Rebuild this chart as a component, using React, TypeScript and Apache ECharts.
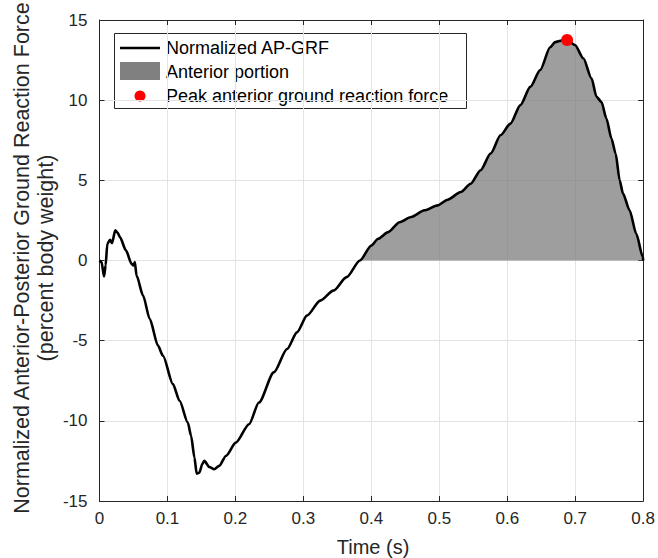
import React, { useEffect, useRef } from "react";
import * as echarts from "echarts";

// Time samples (s) and normalized AP-GRF (percent body weight)
const timeS = [
  0, 0.003, 0.0067, 0.009, 0.0115, 0.0155, 0.0184, 0.0232, 0.0264, 0.0301,
  0.0389, 0.0472, 0.0498, 0.052, 0.0545, 0.0641, 0.0739, 0.086, 0.0934, 0.108,
  0.1178, 0.1299, 0.1348, 0.1397, 0.143, 0.147, 0.1513, 0.1543, 0.1616, 0.1689,
  0.1762, 0.186, 0.2006, 0.22, 0.2346, 0.2565, 0.276, 0.2906, 0.3052, 0.3248,
  0.3442, 0.3636, 0.3832, 0.4001, 0.41, 0.4246, 0.4416, 0.4586, 0.4782, 0.4976,
  0.5122, 0.5316, 0.5462, 0.5608, 0.5755, 0.5901, 0.6047, 0.6193, 0.6339, 0.6485,
  0.6631, 0.6704, 0.6802, 0.688, 0.6996, 0.7119, 0.724, 0.7313, 0.7386, 0.7459,
  0.7533, 0.7595, 0.7654, 0.7703, 0.78, 0.7898, 0.7996, 0.8,
];
const forcePct = [
  0, -0.1, -1.0, -0.3, 1.04, 1.29, 1.08, 1.88, 1.75, 1.46,
  0.63, -0.21, -0.31, -0.1, -0.94, -2.19, -3.64, -5.31, -5.94, -7.71,
  -8.75, -10.1, -10.94, -12.29, -13.29, -13.23, -12.69, -12.5, -12.88, -13.02,
  -12.81, -12.19, -11.36, -10.21, -8.86, -6.98, -5.52, -4.48, -3.44, -2.5,
  -1.88, -1.04, 0, 0.94, 1.36, 1.77, 2.39, 2.71, 3.13, 3.44,
  3.79, 4.27, 4.79, 5.63, 6.67, 7.81, 8.54, 9.69, 10.83, 11.88,
  13.3, 13.62, 13.72, 13.75, 13.44, 12.61, 11.36, 10.21, 9.89, 8.86,
  7.61, 6.67, 5.0, 4.17, 3.13, 1.67, 0.21, 0,
];

// Start of the anterior (propulsive) portion
const anteriorStart = 0.3832;

// Peak anterior ground reaction force
const peakTime = [0.688];
const peakForce = [13.75];

const legendLabels = [
  "Normalized AP-GRF",
  "Anterior portion",
  "Peak anterior ground reaction force",
];

const FONT = "'Liberation Sans', Arial, Helvetica, sans-serif";
const AXIS_COLOR = "#262626";
const SMOOTH = 0.25;

export default function App() {
  const ref = useRef<HTMLDivElement>(null);

  useEffect(() => {
    if (!ref.current) return;
    const chart = echarts.init(ref.current, undefined, { renderer: "svg" });

    const lineData = timeS.map((t, i) => [t, forcePct[i]]);
    const areaData = lineData.filter((p) => p[0] >= anteriorStart);
    const peakData = peakTime.map((t, i) => [t, peakForce[i]]);

    const boxAxis = {
      axisLine: { show: true, onZero: false, lineStyle: { color: AXIS_COLOR, width: 1 } },
      axisTick: { show: true, inside: true, length: 5, lineStyle: { color: AXIS_COLOR } },
      axisLabel: { show: false },
      splitLine: { show: false },
    };

    chart.setOption({
      animation: false,
      backgroundColor: "#ffffff",
      grid: { left: 99.5, top: 20, right: 11, bottom: 57, containLabel: false },
      xAxis: [
        {
          type: "value",
          min: 0,
          max: 0.8,
          interval: 0.1,
          axisLine: { show: true, onZero: false, lineStyle: { color: AXIS_COLOR, width: 1 } },
          axisTick: { show: true, inside: true, length: 5, lineStyle: { color: AXIS_COLOR } },
          axisLabel: {
            color: AXIS_COLOR,
            fontFamily: FONT,
            fontSize: 17,
            margin: 9,
            formatter: (v: number) => String(+v.toFixed(1)),
          },
          splitLine: { show: true, lineStyle: { color: "#e3e3e3", width: 1 } },
        },
        { type: "value", position: "top", min: 0, max: 0.8, interval: 0.1, ...boxAxis },
      ],
      yAxis: [
        {
          type: "value",
          min: -15,
          max: 15,
          interval: 5,
          axisLine: { show: true, onZero: false, lineStyle: { color: AXIS_COLOR, width: 1 } },
          axisTick: { show: true, inside: true, length: 5, lineStyle: { color: AXIS_COLOR } },
          axisLabel: { color: AXIS_COLOR, fontFamily: FONT, fontSize: 17, margin: 12 },
          splitLine: { show: true, lineStyle: { color: "#e3e3e3", width: 1 } },
        },
        { type: "value", position: "right", min: -15, max: 15, interval: 5, ...boxAxis },
      ],
      series: [
        {
          name: legendLabels[1],
          type: "line",
          data: areaData,
          showSymbol: false,
          symbol: "none",
          smooth: SMOOTH,
          smoothMonotone: "x",
          lineStyle: { width: 0 },
          areaStyle: { color: "rgba(128,128,128,0.76)", opacity: 1, origin: 0 },
          z: 2,
        },
        {
          name: legendLabels[0],
          type: "line",
          data: lineData,
          showSymbol: false,
          symbol: "none",
          smooth: SMOOTH,
          smoothMonotone: "x",
          lineStyle: { color: "#000000", width: 2.6 },
          z: 3,
        },
        {
          name: legendLabels[2],
          type: "scatter",
          data: peakData,
          symbol: "circle",
          symbolSize: 12,
          itemStyle: { color: "#ff0000", opacity: 1 },
          z: 4,
        },
      ],
      graphic: [
        // Axis titles
        {
          type: "text",
          x: 22,
          y: 258,
          rotation: Math.PI / 2,
          style: {
            text: "Normalized Anterior-Posterior Ground Reaction Force",
            fontFamily: FONT,
            fontSize: 21.5,
            fill: AXIS_COLOR,
            align: "center",
            verticalAlign: "middle",
          },
        },
        {
          type: "text",
          x: 46,
          y: 258,
          rotation: Math.PI / 2,
          style: {
            text: "(percent body weight)",
            fontFamily: FONT,
            fontSize: 21.5,
            fill: AXIS_COLOR,
            align: "center",
            verticalAlign: "middle",
          },
        },
        {
          type: "text",
          x: 373,
          y: 547,
          style: {
            text: "Time (s)",
            fontFamily: FONT,
            fontSize: 20,
            fill: AXIS_COLOR,
            align: "center",
            verticalAlign: "middle",
          },
        },
        // Legend box
        {
          type: "group",
          z: 100,
          children: [
            {
              type: "rect",
              shape: { x: 114.5, y: 33.5, width: 352, height: 75 },
              style: { fill: "#ffffff", stroke: AXIS_COLOR, lineWidth: 1 },
            },
            {
              type: "line",
              shape: { x1: 120, y1: 48, x2: 160, y2: 48 },
              style: { stroke: "#000000", lineWidth: 2.6 },
            },
            {
              type: "rect",
              shape: { x: 120, y: 62, width: 40, height: 18 },
              style: { fill: "#808080" },
            },
            {
              type: "circle",
              shape: { cx: 140, cy: 96, r: 5.5 },
              style: { fill: "#ff0000" },
            },
            ...legendLabels.map((label, i) => ({
              type: "text",
              x: 166,
              y: 48 + i * 24,
              style: {
                text: label,
                fontFamily: FONT,
                fontSize: 18,
                fill: "#000000",
                align: "left",
                verticalAlign: "middle",
              },
            })),
          ],
        },
      ],
    });

    return () => chart.dispose();
  }, []);

  return (
    <div
      ref={ref}
      style={{ position: "fixed", left: 0, top: 0, width: 658, height: 558, background: "#fff" }}
    />
  );
}
